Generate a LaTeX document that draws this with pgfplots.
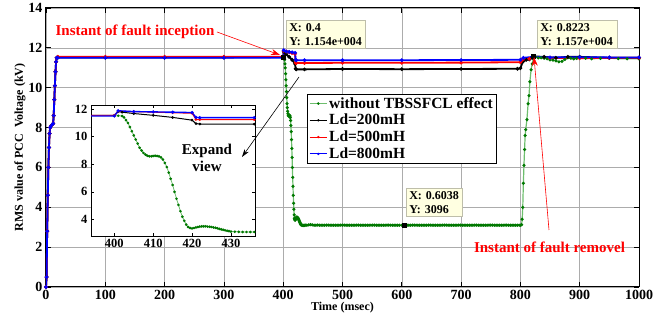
\documentclass[border=0pt]{standalone}
\usepackage{fontspec}
\setmainfont{Liberation Serif}
\usepackage{pgfplots}
\usepackage{pgfplotstable}
\pgfplotsset{compat=1.18}
\usetikzlibrary{arrows.meta}

\definecolor{grnline}{RGB}{110,190,110}
\definecolor{grndot}{RGB}{0,120,0}
\definecolor{tipfill}{RGB}{255,255,225}
\definecolor{tipedge}{RGB}{190,190,170}

% PCC voltage, RMS (kV) versus time (ms), without the limiter
\pgfplotstableread[row sep=\\]{
t v \\
0 0 \\ 1 0.5 \\ 2 2.8 \\ 3 4.6 \\ 4 6.0 \\ 5 7.0 \\ 6 7.7 \\ 7 8.0 \\ 9 8.1 \\
12 8.2 \\ 13 8.6 \\ 14 9.4 \\ 15 10.1 \\ 16 10.8 \\ 17 11.3 \\ 18 11.5 \\ 20 11.52 \\
100 11.52 \\ 200 11.52 \\ 300 11.52 \\ 400 11.52 \\ 401 11.52 \\
402 11.5 \\ 402.5 11.4 \\ 403 11.2 \\ 403.5 11.0 \\ 404 10.7 \\ 404.5 10.4 \\
405 10.1 \\ 405.5 9.8 \\ 406 9.5 \\ 406.5 9.2 \\ 407 9.0 \\ 407.5 8.82 \\
408 8.7 \\ 408.5 8.62 \\ 409 8.58 \\ 409.5 8.58 \\ 410 8.6 \\ 410.5 8.62 \\
411 8.6 \\ 411.5 8.57 \\ 412 8.5 \\ 412.5 8.35 \\ 413 8.1 \\ 413.5 7.8 \\
414 7.4 \\ 414.5 6.95 \\ 415 6.5 \\ 415.5 6.0 \\ 416 5.5 \\ 416.5 5.05 \\
417 4.6 \\ 417.5 4.2 \\ 418 3.9 \\ 418.5 3.62 \\ 419 3.45 \\ 419.5 3.38 \\
420 3.35 \\ 420.5 3.38 \\ 421 3.42 \\ 421.5 3.45 \\ 422 3.48 \\ 422.5 3.5 \\
423 3.5 \\ 423.5 3.5 \\ 424 3.48 \\ 424.5 3.47 \\ 425 3.45 \\ 425.5 3.42 \\
426 3.4 \\ 426.5 3.36 \\ 427 3.32 \\ 427.5 3.28 \\ 428 3.25 \\ 428.5 3.21 \\
429 3.18 \\ 429.5 3.15 \\ 430 3.12 \\ 431 3.11 \\ 432 3.1 \\ 433 3.09 \\
434 3.09 \\ 435 3.09 \\ 436 3.09 \\ 438 3.1 \\ 440 3.1 \\ 443 3.12 \\ 446 3.13 \\
449 3.12 \\ 452 3.1 \\ 455 3.1 \\ 458 3.11 \\ 461 3.1 \\ 464 3.1 \\ 467 3.1 \\
470 3.1 \\ 473 3.1 \\ 476 3.1 \\ 479 3.1 \\ 482 3.1 \\ 485 3.1 \\ 488 3.1 \\
491 3.1 \\ 494 3.1 \\ 497 3.1 \\ 500 3.1 \\ 503 3.1 \\ 506 3.1 \\ 509 3.1 \\
512 3.1 \\ 515 3.1 \\ 518 3.1 \\ 521 3.1 \\ 524 3.1 \\ 527 3.1 \\ 530 3.1 \\
533 3.1 \\ 536 3.1 \\ 539 3.1 \\ 542 3.1 \\ 545 3.1 \\ 548 3.1 \\ 551 3.1 \\
554 3.1 \\ 557 3.1 \\ 560 3.1 \\ 563 3.1 \\ 566 3.1 \\ 569 3.1 \\ 572 3.1 \\
575 3.1 \\ 578 3.1 \\ 581 3.1 \\ 584 3.1 \\ 587 3.1 \\ 590 3.1 \\ 593 3.1 \\
596 3.1 \\ 600 3.096 \\ 603 3.1 \\ 606 3.1 \\ 609 3.1 \\ 612 3.1 \\ 615 3.1 \\
618 3.1 \\ 621 3.1 \\ 624 3.1 \\ 627 3.1 \\ 630 3.1 \\ 633 3.1 \\ 636 3.1 \\
639 3.1 \\ 642 3.1 \\ 645 3.1 \\ 648 3.1 \\ 651 3.1 \\ 654 3.1 \\ 657 3.1 \\
660 3.1 \\ 663 3.1 \\ 666 3.1 \\ 669 3.1 \\ 672 3.1 \\ 675 3.1 \\ 678 3.1 \\
681 3.1 \\ 684 3.1 \\ 687 3.1 \\ 690 3.1 \\ 693 3.1 \\ 696 3.1 \\ 699 3.1 \\
702 3.1 \\ 705 3.1 \\ 708 3.1 \\ 711 3.1 \\ 714 3.1 \\ 717 3.1 \\ 720 3.1 \\
723 3.1 \\ 726 3.1 \\ 729 3.1 \\ 732 3.1 \\ 735 3.1 \\ 738 3.1 \\ 741 3.1 \\
744 3.1 \\ 747 3.1 \\ 750 3.1 \\ 753 3.1 \\ 756 3.1 \\ 759 3.1 \\ 762 3.1 \\
765 3.1 \\ 768 3.1 \\ 771 3.1 \\ 774 3.1 \\ 777 3.1 \\ 780 3.1 \\ 783 3.1 \\
786 3.1 \\ 789 3.1 \\ 792 3.1 \\ 795 3.1 \\ 798 3.1 \\ 800 3.1 \\ 802 3.12 \\
803 3.4 \\ 804 4.0 \\ 805 5.2 \\ 806 6.1 \\ 807 6.9 \\ 808 7.6 \\ 809 7.9 \\
811 8.4 \\ 813 9.2 \\ 814.5 9.6 \\ 816 10.3 \\ 818 10.9 \\ 820 11.2 \\ 822 11.5 \\
825 11.55 \\ 830 11.5 \\ 835 11.5 \\ 840 11.48 \\ 845 11.45 \\ 850 11.4 \\
855 11.38 \\ 860 11.35 \\ 865 11.3 \\ 870 11.32 \\ 875 11.42 \\ 880 11.5 \\
885 11.48 \\ 890 11.45 \\ 895 11.47 \\ 900 11.5 \\ 910 11.48 \\ 920 11.45 \\
935 11.47 \\ 950 11.48 \\ 965 11.46 \\ 980 11.45 \\ 1000 11.45 \\
}\nofcl

% Ld = 200 mH
\pgfplotstableread{
t v
0 0
1 0.5
2 2.8
3 4.6
4 6.0
5 7.0
6 7.7
7 8.0
9 8.1
12 8.2
13 8.6
14 9.4
15 10.1
16 10.8
17 11.3
18 11.5
20 11.52
100 11.52
200 11.52
300 11.52
400 11.54
401 11.82
402 11.78
405 11.68
410 11.55
415 11.4
420 11.2
421 10.95
422 10.92
436 10.92
500 10.94
600 10.93
700 10.94
795 10.95
800 10.98
804 11.3
810 11.4
815 11.42
820 11.5
822.3 11.57
840 11.55
860 11.5
880 11.55
900 11.55
950 11.5
1000 11.5
}\ldtwo

% Ld = 500 mH
\pgfplotstableread{
t v
0 0
1 0.5
2 2.8
3 4.6
4 6.0
5 7.0
6 7.7
7 8.0
9 8.1
12 8.2
13 8.6
14 9.4
15 10.1
16 10.8
17 11.3
18 11.5
20 11.55
100 11.55
200 11.55
300 11.55
400 11.55
401 11.85
405 11.82
410 11.78
415 11.74
420 11.7
421 11.25
422 11.24
436 11.24
500 11.25
600 11.25
700 11.26
800 11.28
803 11.4
815 11.45
822 11.55
850 11.5
900 11.48
950 11.5
1000 11.5
}\ldfive

% Ld = 800 mH
\pgfplotstableread{
t v
0 0
1 0.5
2 2.8
3 4.6
4 6.0
5 7.0
6 7.7
7 8.0
9 8.1
12 8.2
13 8.6
14 9.4
15 10.1
16 10.8
17 11.3
18 11.5
20 11.5
100 11.5
200 11.5
300 11.5
400 11.5
401 11.88
405 11.82
410 11.8
415 11.78
420 11.75
421 11.4
422 11.38
436 11.38
500 11.38
600 11.38
700 11.39
800 11.4
805 11.5
822 11.55
850 11.52
900 11.53
950 11.52
1000 11.52
}\ldeight

\pgfplotsset{
  bfticks/.style={ticklabel style={font=\fontsize{#1}{#1}\selectfont\bfseries}},
  sNo/.style={color=grnline, line width=#1, mark=*, mark size=0.9pt,
    mark options={draw=grndot, fill=grndot}},
  sTwo/.style={color=black, line width=#1, mark=*, mark size=0.8pt},
  sFive/.style={color=red, line width=#1, mark=*, mark size=0.8pt},
  sEight/.style={color=blue, line width=#1, mark=*, mark size=0.8pt},
}

\begin{document}
\begin{tikzpicture}[x=1pt,y=1pt]
\useasboundingbox (0,0) rectangle (662,320);

\begin{axis}[
  at={(46pt,33pt)}, anchor=south west,
  width=593pt, height=279pt, scale only axis,
  xmin=0, xmax=1000, ymin=0, ymax=14,
  xtick={0,100,...,1000}, ytick={0,2,...,14},
  grid=major, major grid style={gray!65, line width=0.5pt},
  tick align=inside, major tick length=5pt,
  tick style={black, line width=0.8pt},
  axis line style={line width=1pt},
  /pgf/number format/assume math mode=true,
  /pgf/number format/1000 sep={},
  bfticks=14,
  xlabel={Time (msec)},
  ylabel={RMS value of PCC\ \ Voltage (kV)},
  label style={font=\fontsize{12}{12}\selectfont\bfseries},
  xlabel style={at={(axis description cs:0.5,-0.075)}, anchor=center},
  ylabel style={at={(axis description cs:-0.044,0.5)}, anchor=center},
  legend style={at={(axis description cs:0.440,0.692)}, anchor=north west,
    draw=black, line width=0.8pt, fill=white,
    font=\fontsize{15.5}{15.5}\selectfont\bfseries,
    inner xsep=2pt, inner ysep=1pt, row sep=0.5pt},
  legend cell align=left,
  legend image post style={line width=0.8pt},
]
\addplot[sNo=1.2pt] table {\nofcl};
\addplot[sTwo=1.8pt] table {\ldtwo};
\addplot[sFive=1.8pt] table {\ldfive};
\addplot[sEight=1.8pt] table {\ldeight};
\legend{without TBSSFCL effect, Ld=200mH, Ld=500mH, Ld=800mH}
% data cursor points
\addplot[only marks, mark=square*, mark size=2pt, mark options={fill=black, draw=black}, forget plot]
  coordinates {(400,11.54) (603.8,3.096) (822.3,11.57)};
\end{axis}

% zoomed view around the fault instant
\begin{axis}[
  at={(91pt,84pt)}, anchor=south west,
  width=164pt, height=131pt, scale only axis,
  xmin=394, xmax=436.2, ymin=2.8, ymax=12.3,
  xtick={400,410,420,430}, ytick={4,6,...,12},
  tick align=inside, major tick length=3pt,
  tick style={black, line width=0.6pt},
  axis line style={line width=0.8pt},
  axis background/.style={fill=white},
  /pgf/number format/assume math mode=true,
  bfticks=12.5,
  clip=true,
]
\addplot[sNo=0.8pt] table {\nofcl};
\addplot[sTwo=1pt] table {\ldtwo};
\addplot[sFive=1pt] table {\ldfive};
\addplot[sEight=1.4pt] table {\ldeight};
\end{axis}

% data tips
\tikzset{tip/.style={draw=tipedge, fill=tipfill, line width=0.5pt, anchor=north west,
  align=left, inner xsep=3pt, inner ysep=3pt,
  font=\fontsize{12}{14}\selectfont\bfseries}}
\node[tip, text width=73pt] at (286,300) {X: 0.4\\Y: 1.154e+004};
\node[tip, text width=74pt] at (537,300) {X: 0.8223\\Y: 1.157e+004};
\node[tip, text width=50pt] at (406,132) {X: 0.6038\\Y: 3096};

% annotations
\node[red, font=\fontsize{15}{15}\selectfont\bfseries] at (135,288) {Instant of fault inception};
\draw[red, line width=0.6pt, -{Stealth[length=9pt,width=6pt]}] (217,288) -- (280,265);
\node[red, font=\fontsize{15}{15}\selectfont\bfseries] at (549.5,73) {Instant of fault removel};
\draw[red, line width=0.6pt, -{Stealth[length=9pt,width=6pt]}] (549,90) -- (534,263);
\node[align=center, font=\fontsize{15}{17}\selectfont\bfseries] at (207,162.5) {Expand\\view};
\draw[black, line width=0.6pt, -{Stealth[length=8pt,width=5pt]}] (299,243) -- (242,163);
\end{tikzpicture}
\end{document}
